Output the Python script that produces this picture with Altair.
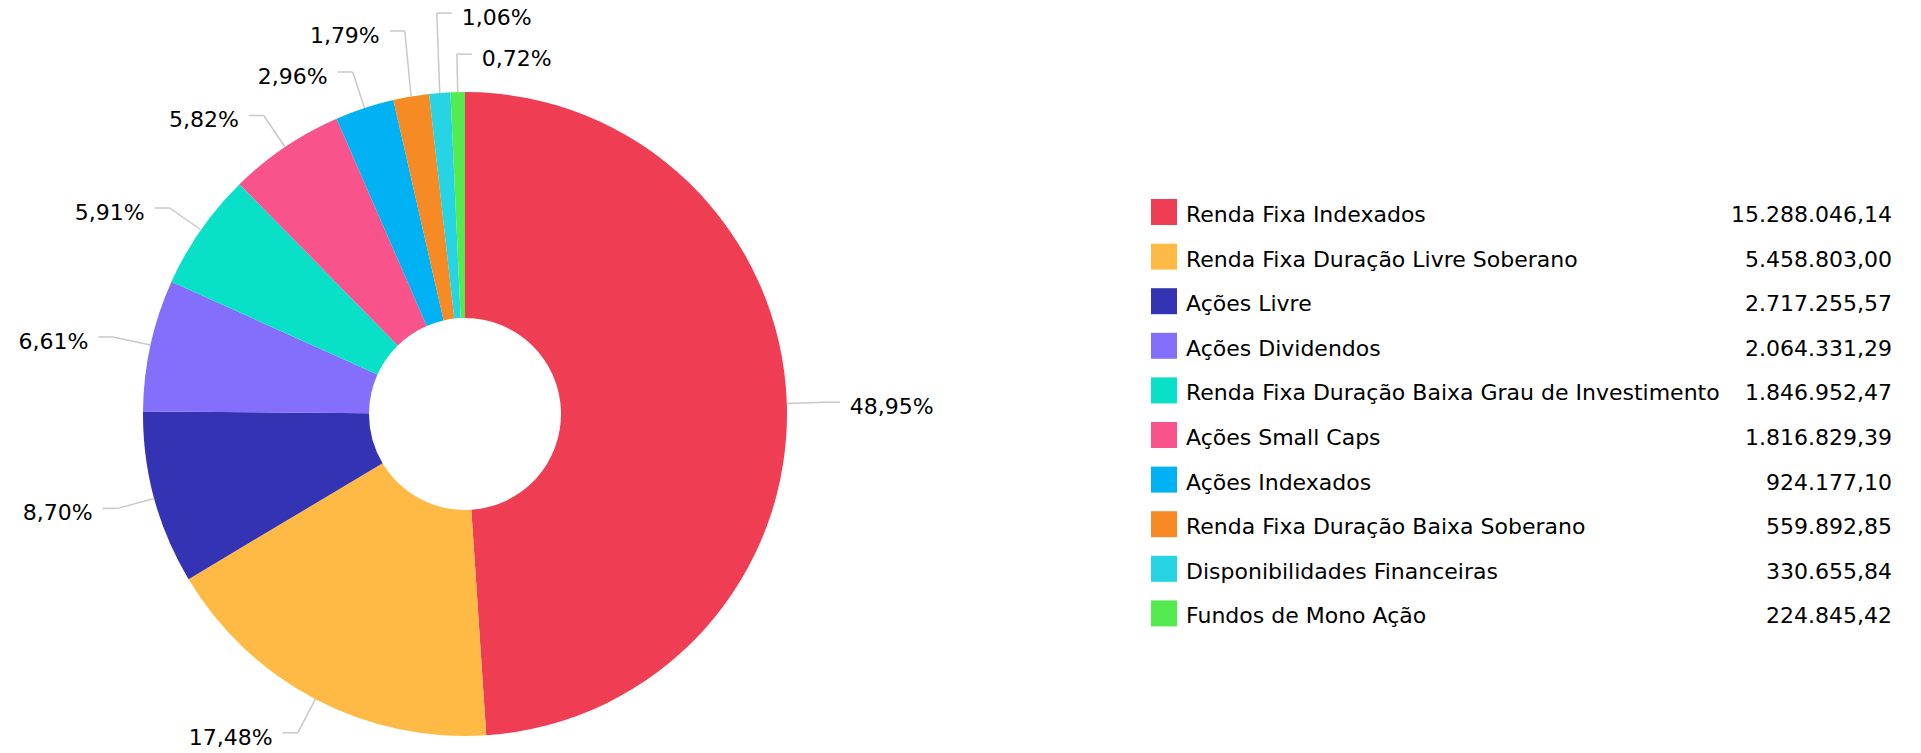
import altair as alt
import pandas as pd

# ---- data ----
categories = [
    "Renda Fixa Indexados",
    "Renda Fixa Duração Livre Soberano",
    "Ações Livre",
    "Ações Dividendos",
    "Renda Fixa Duração Baixa Grau de Investimento",
    "Ações Small Caps",
    "Ações Indexados",
    "Renda Fixa Duração Baixa Soberano",
    "Disponibilidades Financeiras",
    "Fundos de Mono Ação",
]
values = [
    15288046.14, 5458803.00, 2717255.57, 2064331.29, 1846952.47,
    1816829.39, 924177.10, 559892.85, 330655.84, 224845.42,
]

# ---- style / layout ----
palette = ["#EF3E53", "#FFBA45", "#3333B3", "#836FFC", "#08E0C7",
           "#F8548B", "#00B2F3", "#F68A25", "#26D4E4", "#53EB50"]
FONT = "DejaVu Sans"
FS = 22
CX, CY = 465, 414
R_OUT, R_IN, R_TICK = 322, 96, 360
H_SEG, GAP, MIN_SEP, TOP = 15, 10, 41, 10
LEG_SQ_X, LEG_TXT_X, LEG_VAL_X = 1164, 1186, 1892
LEG_Y0, LEG_STEP = 212, 44.6
LINE_COLOR = "#c8c8c8"


def br_number(v):
    s = f"{v:,.2f}"
    return s.replace(",", "_").replace(".", ",").replace("_", ".")


df = pd.DataFrame({
    "cat": categories,
    "value": values,
    "order": list(range(len(categories))),
    "value_txt": [br_number(v) for v in values],
})

base = alt.Chart(df)
color = alt.Color("cat:N", scale=alt.Scale(domain=categories, range=palette), legend=None)

pie = base.mark_arc(outerRadius=R_OUT, innerRadius=R_IN).encode(
    theta=alt.Theta("value:Q", stack=True),
    color=color,
    order=alt.Order("order:Q", sort="ascending"),
    x=alt.value(CX),
    y=alt.value(CY),
)

lab = (
    base.transform_joinaggregate(total="sum(value)")
    .transform_window(cum="sum(value)", sort=[alt.SortField("order")], frame=[None, 0])
    .transform_calculate(mid="(datum.cum - datum.value / 2) / datum.total * 2 * PI")
    .transform_calculate(pct="datum.value / datum.total * 100")
    .transform_calculate(label="replace(format(datum.pct, '.2f'), '.', ',') + '%'")
    .transform_calculate(ex=f"{CX} + {R_OUT} * sin(datum.mid)")
    .transform_calculate(ey=f"{CY} - {R_OUT} * cos(datum.mid)")
    .transform_calculate(nx=f"{CX} + {R_TICK} * sin(datum.mid)")
    .transform_calculate(ny=f"{CY} - {R_TICK} * cos(datum.mid)")
    .transform_calculate(a="datum.mid > PI ? datum.mid - 2 * PI : datum.mid")
    .transform_calculate(side0="sin(datum.mid) >= 0 ? 'R' : 'L'")
    .transform_calculate(key0="datum.side0 == 'R' ? -datum.a : datum.a")
    .transform_window(i0="row_number()", groupby=["side0"], sort=[alt.SortField("key0")])
    .transform_calculate(k0=f"datum.ny + datum.i0 * {MIN_SEP}")
    .transform_window(m0="min(k0)", groupby=["side0"], sort=[alt.SortField("key0")], frame=[None, 0])
    .transform_calculate(py0=f"datum.m0 - datum.i0 * {MIN_SEP}")
    .transform_calculate(side=f"(datum.side0 == 'L' && datum.py0 < {TOP}) ? 'R' : datum.side0")
    .transform_calculate(key1="datum.side == 'R' ? -datum.a : datum.a")
    .transform_window(i1="row_number()", groupby=["side"], sort=[alt.SortField("key1")])
    .transform_calculate(k1=f"datum.ny + datum.i1 * {MIN_SEP}")
    .transform_window(m1="min(k1)", groupby=["side"], sort=[alt.SortField("key1")], frame=[None, 0])
    .transform_calculate(py=f"datum.m1 - datum.i1 * {MIN_SEP}")
    .transform_calculate(dir="datum.side == 'R' ? 1 : -1")
    .transform_calculate(hx=f"datum.nx + datum.dir * {H_SEG}")
    .transform_calculate(tx=f"datum.nx + datum.dir * {H_SEG + GAP}")
    .transform_calculate(ty="datum.py + 5")
)

tick1 = lab.mark_rule(color=LINE_COLOR, strokeWidth=1.5).encode(
    x=alt.X("ex:Q", scale=None, axis=None),
    y=alt.Y("ey:Q", scale=None, axis=None),
    x2="nx:Q",
    y2="py:Q",
)
tick2 = lab.mark_rule(color=LINE_COLOR, strokeWidth=1.5).encode(
    x=alt.X("nx:Q", scale=None, axis=None),
    y=alt.Y("py:Q", scale=None, axis=None),
    x2="hx:Q",
    y2="py:Q",
)
txt_l = lab.transform_filter("datum.side == 'L'").mark_text(
    align="right", baseline="middle", font=FONT, fontSize=FS, color="#000000"
).encode(
    x=alt.X("tx:Q", scale=None, axis=None),
    y=alt.Y("ty:Q", scale=None, axis=None),
    text="label:N",
)
txt_r = lab.transform_filter("datum.side == 'R'").mark_text(
    align="left", baseline="middle", font=FONT, fontSize=FS, color="#000000"
).encode(
    x=alt.X("tx:Q", scale=None, axis=None),
    y=alt.Y("ty:Q", scale=None, axis=None),
    text="label:N",
)

leg = base.transform_calculate(ly=f"{LEG_Y0} + datum.order * {LEG_STEP}").transform_calculate(
    lty="datum.ly + 3"
)
squares = leg.mark_square(size=26 * 26, filled=True, opacity=1).encode(
    x=alt.value(LEG_SQ_X),
    y=alt.Y("ly:Q", scale=None, axis=None),
    color=color,
)
names = leg.mark_text(align="left", baseline="middle", font=FONT, fontSize=FS, color="#000000").encode(
    x=alt.value(LEG_TXT_X),
    y=alt.Y("lty:Q", scale=None, axis=None),
    text="cat:N",
)
vals = leg.mark_text(align="right", baseline="middle", font=FONT, fontSize=FS, color="#000000").encode(
    x=alt.value(LEG_VAL_X),
    y=alt.Y("lty:Q", scale=None, axis=None),
    text="value_txt:N",
)

chart = (
    alt.layer(pie, tick1, tick2, txt_l, txt_r, squares, names, vals)
    .properties(width=1921, height=753, padding=0, autosize=alt.AutoSizeParams(type="none"))
    .configure_view(stroke=None)
)

chart.save("out.html", embed_options={"renderer": "svg", "actions": False})
